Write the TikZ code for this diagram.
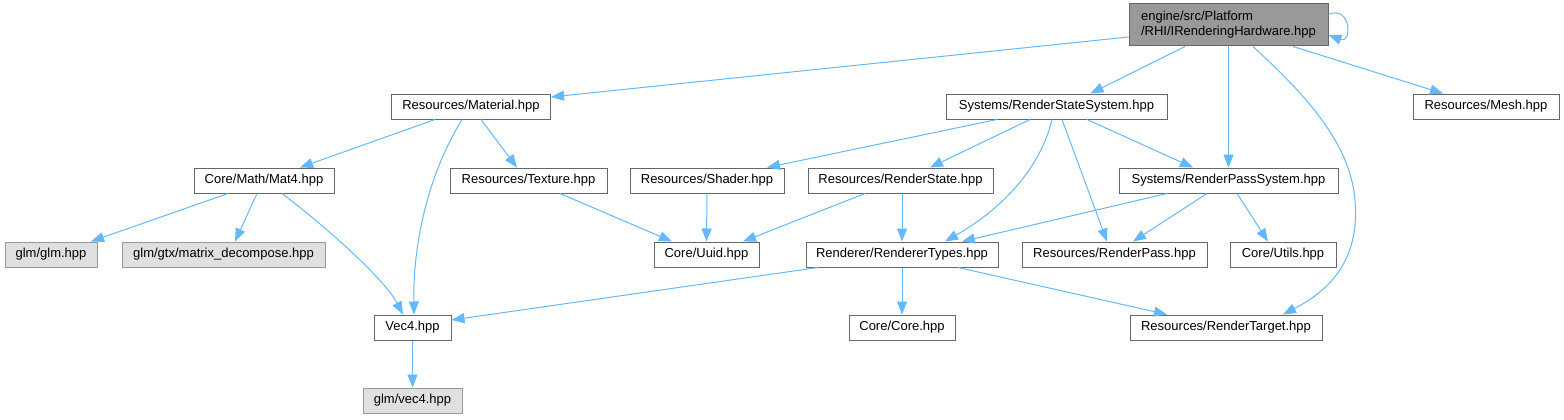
\documentclass[tikz,border=0pt]{standalone}
\usepackage{fontspec}
\setmainfont{Liberation Sans}
\usetikzlibrary{arrows.meta}
\definecolor{edgeblue}{HTML}{63B8FF}
\definecolor{bordark}{HTML}{666666}
\definecolor{topfill}{HTML}{999999}
\definecolor{leaffill}{HTML}{E0E0E0}
\tikzset{
  base/.style={draw, rectangle, line width=1pt, inner sep=0pt, minimum height=25pt,
    font=\fontsize{13}{15}\selectfont, text=black},
  wbox/.style={base, draw=bordark, fill=white, minimum width=#1},
  gbox/.style={base, draw=topfill, fill=leaffill, minimum width=#1},
  topbox/.style={base, draw=bordark, fill=topfill, minimum width=#1, minimum height=42pt, align=left},
  edge/.style={draw=edgeblue, line width=1pt, -{Triangle[length=13pt,width=10pt]}},
}
\begin{document}
\begin{tikzpicture}[x=1pt,y=-1pt]
\useasboundingbox (0,0) rectangle (1564,420);
% nodes
\node[topbox=199pt] (T) at (1228.5,25) {engine/src/Platform\\/RHI/IRenderingHardware.hpp};
\node[wbox=159pt] (M) at (471,106.5) {Resources/Material.hpp};
\node[wbox=221pt] (RSS) at (1056.5,106.5) {Systems/RenderStateSystem.hpp};
\node[wbox=146pt] (Mesh) at (1486,106.5) {Resources/Mesh.hpp};
\node[wbox=140pt] (Mat4) at (264,180.5) {Core/Math/Mat4.hpp};
\node[wbox=157pt] (Tex) at (528.5,180.5) {Resources/Texture.hpp};
\node[wbox=154pt] (Shader) at (707,180.5) {Resources/Shader.hpp};
\node[wbox=185pt] (RS) at (900.5,180.5) {Resources/RenderState.hpp};
\node[wbox=219pt] (RPS) at (1228.5,180.5) {Systems/RenderPassSystem.hpp};
\node[gbox=92pt] (glm) at (51,254.5) {glm/glm.hpp};
\node[gbox=203pt] (dec) at (223.5,254.5) {glm/gtx/matrix\_decompose.hpp};
\node[wbox=105pt] (Uuid) at (706.5,254.5) {Core/Uuid.hpp};
\node[wbox=192pt] (RTy) at (902,254.5) {Renderer/RendererTypes.hpp};
\node[wbox=185pt] (RP) at (1114.5,254.5) {Resources/RenderPass.hpp};
\node[wbox=106pt] (Utils) at (1283,254.5) {Core/Utils.hpp};
\node[wbox=77pt] (Vec4) at (412.5,327.5) {Vec4.hpp};
\node[wbox=106pt] (Core) at (902,327.5) {Core/Core.hpp};
\node[wbox=192pt] (RT) at (1226,327.5) {Resources/RenderTarget.hpp};
\node[gbox=99pt] (vec4) at (412.5,400.5) {glm/vec4.hpp};
% edges
\draw[edge] ([yshift=-12pt]T.west) -- ([yshift=9.5pt]M.east);
\draw[edge] ([xshift=-43.5pt]T.south) -- ([xshift=34pt]RSS.north);
\draw[edge] (T.south) -- (RPS.north);
\draw[edge] ([xshift=24.5pt]T.south) .. controls (1300,90) and (1350,140) .. (1355,200)
   .. controls (1360,260) and (1330,290) .. ([xshift=57pt]RT.north);
\draw[edge] ([xshift=64.5pt]T.south) -- ([xshift=-43pt]Mesh.north);
\draw[edge] ([yshift=11pt]T.east) .. controls (1352,6) and (1352,44) .. ([yshift=-10pt]T.east);
\draw[edge] ([xshift=-36pt]M.south) -- ([xshift=36pt]Mat4.north);
\draw[edge] ([xshift=-9pt]M.south) .. controls (425,180) and (413,250) .. ([xshift=1.5pt]Vec4.north);
\draw[edge] ([xshift=10pt]M.south) -- ([xshift=-11.5pt]Tex.north);
\draw[edge] ([xshift=-36pt]Mat4.south) -- ([xshift=40pt]glm.north);
\draw[edge] ([xshift=-7pt]Mat4.south) -- ([xshift=11.5pt]dec.north);
\draw[edge] ([xshift=18pt]Mat4.south) .. controls (330,230) and (385,280) .. ([xshift=-9.5pt]Vec4.north);
\draw[edge] ([xshift=31.5pt]Tex.south) -- ([xshift=-34.5pt]Uuid.north);
\draw[edge] (Shader.south) -- (Uuid.north);
\draw[edge] ([xshift=-35.5pt]RS.south) -- ([xshift=36.5pt]Uuid.north);
\draw[edge] ([xshift=1.5pt]RS.south) -- (RTy.north);
\draw[edge] ([xshift=-59.5pt]RSS.south) -- ([xshift=60pt]Shader.north);
\draw[edge] ([xshift=-26.5pt]RSS.south) -- ([xshift=29.5pt]RS.north);
\draw[edge] ([xshift=-4.5pt]RSS.south) .. controls (1040,170) and (1000,210) .. ([xshift=43pt]RTy.north);
\draw[edge] ([xshift=5.5pt]RSS.south) -- ([xshift=-7.5pt]RP.north);
\draw[edge] ([xshift=30.5pt]RSS.south) -- ([xshift=-35.5pt]RPS.north);
\draw[edge] ([xshift=-61.5pt]RPS.south) -- ([xshift=60pt]RTy.north);
\draw[edge] ([xshift=-21.5pt]RPS.south) -- ([xshift=18.5pt]RP.north);
\draw[edge] ([xshift=8.5pt]RPS.south) -- ([xshift=-15pt]Utils.north);
\draw[edge] ([xshift=-84pt]RTy.south) -- ([yshift=7.5pt]Vec4.east);
\draw[edge] (RTy.south) -- (Core.north);
\draw[edge] ([xshift=56pt]RTy.south) -- ([xshift=-59pt]RT.north);
\draw[edge] (Vec4.south) -- (vec4.north);
\end{tikzpicture}
\end{document}
